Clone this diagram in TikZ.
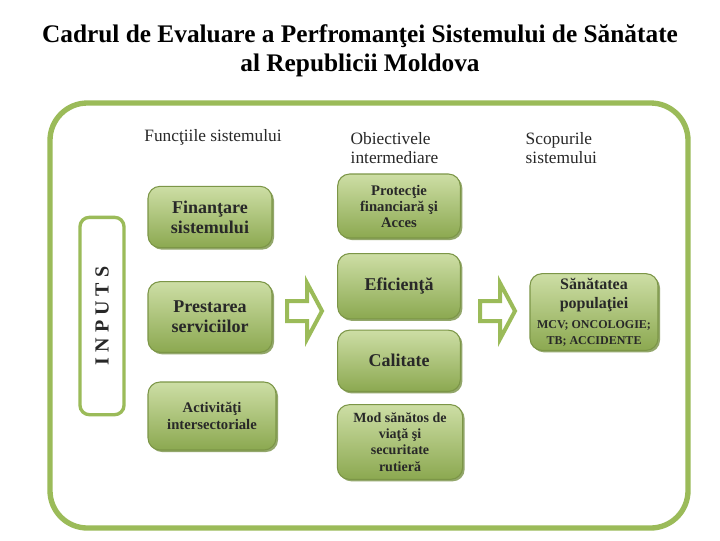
\documentclass[tikz,border=0pt]{standalone}
\usepackage{fontspec}
\setmainfont{Liberation Serif}
\usetikzlibrary{shadows,calc}
\definecolor{og}{RGB}{155,187,89}
\definecolor{lg}{RGB}{205,222,165}
\definecolor{dg}{RGB}{120,145,70}
\definecolor{tx}{RGB}{40,40,40}
\tikzset{
 gbox/.style={rounded corners=9pt,top color=lg,bottom color=og!90!black,draw=og!80!black,line width=0.8pt,
   drop shadow={shadow xshift=1.5pt,shadow yshift=-1.5pt,fill=dg,opacity=0.8},align=center,text=tx,font=\bfseries},
 hd/.style={align=left,text=tx,font=\fontsize{13}{14}\selectfont},
 barrow/.style={draw=og,line width=3pt,fill=white,line join=miter}
}
\begin{document}
\begin{tikzpicture}[x=0.75pt,y=-0.75pt]
\useasboundingbox (0,0) rectangle (720,540);
\fill[white] (0,0) rectangle (720,540);
\node[font=\bfseries\fontsize{19}{22}\selectfont,align=center,text=black] (title) at (360,51) {Cadrul de Evaluare a Perfromanţei Sistemului de Sănătate\\al Republicii Moldova};
\draw[og,line width=4pt,rounded corners=28pt] (50,103) rectangle (688,528);
\node[draw=og,line width=2.5pt,rounded corners=7pt,minimum width=33pt,minimum height=148pt] (inp) at (102,316) {};
\node[rotate=90,font=\bfseries\fontsize{15}{16}\selectfont,text=tx] (inpt) at (inp) {I N P U T S};
\node[hd,anchor=center] (h1) at (213,137) {Funcţiile sistemului};
\node[hd,anchor=west] (h2) at (346,148) {Obiectivele\\intermediare};
\node[hd,anchor=west] (h3) at (521,148) {Scopurile\\ sistemului};
\begin{scope}[every node/.style={gbox}]
\node[minimum width=93pt,minimum height=46pt,font=\bfseries\fontsize{13.5}{15}\selectfont] (f) at (210,217) {Finanţare\\sistemului};
\node[minimum width=93pt,minimum height=53pt,font=\bfseries\fontsize{13.5}{15}\selectfont] (p) at (210,317) {Prestarea\\serviciilor};
\node[minimum width=96pt,minimum height=51pt,font=\bfseries\fontsize{11}{13}\selectfont] (a) at (212,416) {Activităţi\\intersectoriale};
\node[minimum width=92pt,minimum height=48pt,font=\bfseries\fontsize{11}{12}\selectfont] (pr) at (399,206) {Protecţie\\financiară şi\\Acces};
\node[minimum width=92pt,minimum height=49pt,anchor=north,font=\bfseries\fontsize{13.5}{15}\selectfont] (e) at (399,253) {Eficienţă};
\node[minimum width=92pt,minimum height=46pt,anchor=south,font=\bfseries\fontsize{13.5}{15}\selectfont] (c) at (399,392) {Calitate};
\node[minimum width=94pt,minimum height=56pt,font=\bfseries\fontsize{10.5}{12.2}\selectfont] (m) at (400,442) {Mod sănătos de\\viaţă şi\\securitate\\rutieră};
\node[minimum width=96pt,minimum height=56pt,font=\bfseries\fontsize{12}{14}\selectfont] (s) at (594,312) {Sănătatea\\populaţiei\\[1pt]{\fontsize{9}{11}\selectfont MCV; ONCOLOGIE;}\\[-2pt]{\fontsize{9}{11}\selectfont TB; ACCIDENTE}};
\end{scope}
\coordinate (a1) at (287,311);
\coordinate (a2) at (480,311);
\foreach \c in {a1,a2}{
 \draw[barrow] ($(\c)+(0,-10)$) -- ++(20,0) -- ++(0,-18) -- ++(15,28) -- ++(-15,28) -- ++(0,-18) -- ++(-20,0) -- cycle;
}
\end{tikzpicture}
\end{document}
